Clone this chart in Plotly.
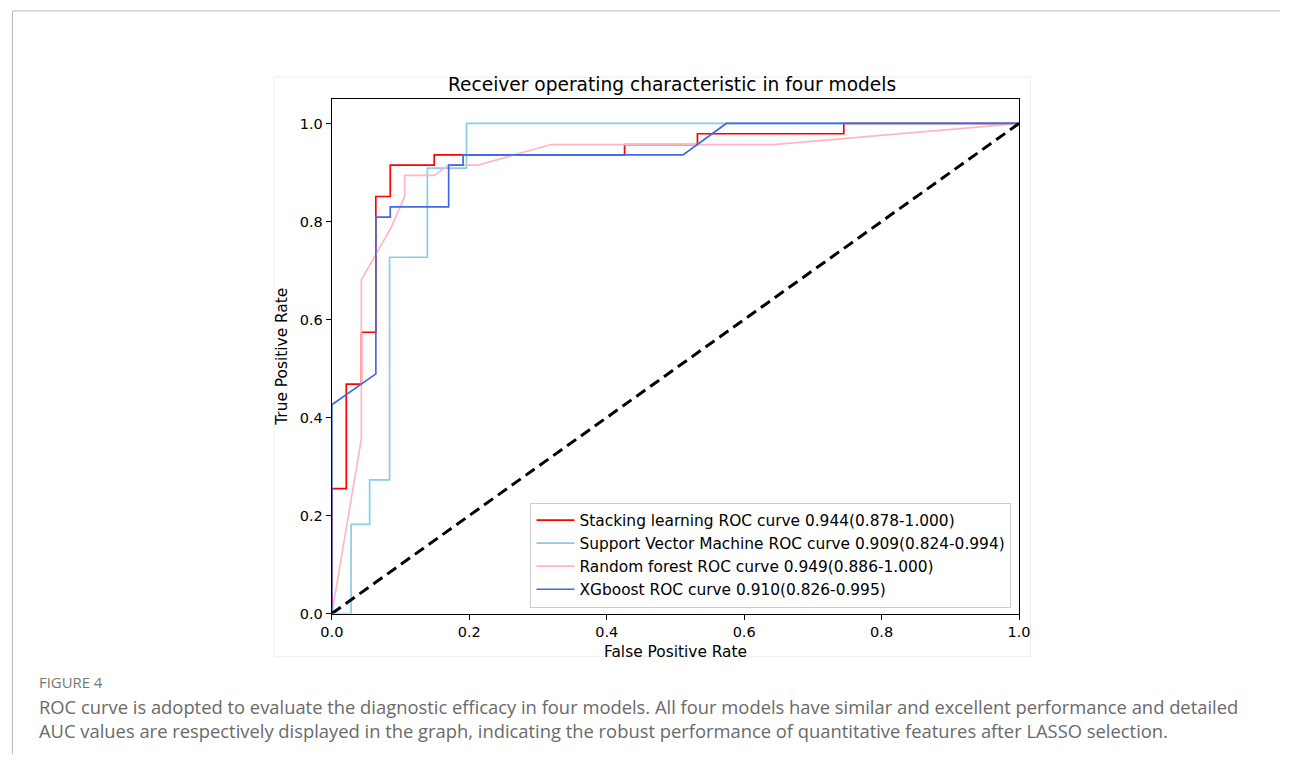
import plotly.graph_objects as go

W, H = 1292, 762

# ---- data ----
series_names = [
    "Stacking learning ROC curve 0.944(0.878-1.000)",
    "Support Vector Machine ROC curve 0.909(0.824-0.994)",
    "Random forest ROC curve 0.949(0.886-1.000)",
    "XGboost ROC curve 0.910(0.826-0.995)",
]
stack_fpr = [0, 0, 0.021, 0.021, 0.043, 0.043, 0.064, 0.064, 0.085, 0.085, 0.149, 0.149,
             0.426, 0.426, 0.532, 0.532, 0.745, 0.745, 1.0]
stack_tpr = [0, 0.255, 0.255, 0.468, 0.468, 0.574, 0.574, 0.851, 0.851, 0.915, 0.915, 0.936,
             0.936, 0.957, 0.957, 0.979, 0.979, 1.0, 1.0]
svm_fpr = [0, 0.028, 0.028, 0.055, 0.055, 0.084, 0.084, 0.139, 0.139, 0.196, 0.196, 1.0]
svm_tpr = [0, 0, 0.182, 0.182, 0.273, 0.273, 0.727, 0.727, 0.909, 0.909, 1.0, 1.0]
rf_fpr = [0, 0.043, 0.043, 0.086, 0.106, 0.106, 0.149, 0.170, 0.213, 0.319, 0.642, 1.0]
rf_tpr = [0, 0.357, 0.681, 0.787, 0.851, 0.894, 0.894, 0.915, 0.915, 0.957, 0.957, 1.0]
xgb_fpr = [0, 0, 0.064, 0.064, 0.085, 0.085, 0.170, 0.170, 0.191, 0.191, 0.511, 0.574, 1.0]
xgb_tpr = [0, 0.426, 0.489, 0.809, 0.809, 0.830, 0.830, 0.915, 0.915, 0.936, 0.936, 1.0, 1.0]
chance = [0, 1]
tick_vals = [0.0, 0.2, 0.4, 0.6, 0.8, 1.0]
tick_text = ["0.0", "0.2", "0.4", "0.6", "0.8", "1.0"]

colors = ["#ff0000", "#87ceeb", "#ffb6c1", "#4169e1"]


def px(x):
    return x / W


def py(y):
    return 1 - y / H


fig = go.Figure()
for name, xs, ys, c in zip(series_names,
                           [stack_fpr, svm_fpr, rf_fpr, xgb_fpr],
                           [stack_tpr, svm_tpr, rf_tpr, xgb_tpr], colors):
    fig.add_trace(go.Scatter(x=xs, y=ys, mode="lines", name=name,
                             line=dict(color=c, width=1.7)))
fig.add_trace(go.Scatter(x=chance, y=chance, mode="lines", showlegend=False,
                         line=dict(color="black", width=3, dash="11px,6px")))

FONT = "DejaVu Sans"
x0p, x1p = 325.9, 1026.1
y0p, y1p = 620.1, 100.0

fig.update_layout(
    width=W, height=H, autosize=False,
    margin=dict(l=0, r=0, t=0, b=0),
    paper_bgcolor="white", plot_bgcolor="white",
    font=dict(family=FONT, color="black", size=14),
    xaxis=dict(domain=[px(x0p), px(x1p)], range=[0, 1.0], showgrid=False, zeroline=False,
               showline=True, linecolor="black", linewidth=1.2, mirror=True,
               ticks="outside", ticklen=5, tickcolor="black", tickwidth=1,
               tickvals=tick_vals, ticktext=tick_text, tickfont=dict(size=14.5, family=FONT),
               anchor="y"),
    yaxis=dict(domain=[py(y0p), py(y1p)], range=[0, 1.05], showgrid=False, zeroline=False,
               showline=True, linecolor="black", linewidth=1.2, mirror=True,
               ticks="outside", ticklen=5, tickcolor="black", tickwidth=1,
               tickvals=tick_vals, ticktext=tick_text, tickfont=dict(size=14.5, family=FONT),
               anchor="x"),
    legend=dict(x=px(528.3), y=py(508), xanchor="left", yanchor="top",
                bgcolor="white", bordercolor="#cccccc", borderwidth=1,
                font=dict(size=15.4, family=FONT, color="black"),
                tracegroupgap=0, itemwidth=38),
    showlegend=True,
)

annotations = [
    dict(text="Receiver operating characteristic in four models", x=px(672.7), y=py(85),
         font=dict(size=18.6, family=FONT, color="black")),
    dict(text="False Positive Rate", x=px(675.8), y=py(658.6), font=dict(size=15.4, family=FONT)),
    dict(text="True Positive Rate", x=px(275.1), y=py(360.6), textangle=-90,
         font=dict(size=15.4, family=FONT)),
    dict(text="FIGURE 4", x=px(25), y=py(689.3), xanchor="left",
         font=dict(size=14.9, family="Open Sans", color="#777777")),
    dict(text="ROC curve is adopted to evaluate the diagnostic efficacy in four models. All four models have similar and excellent performance and detailed",
         x=px(25), y=py(714), xanchor="left",
         font=dict(size=18.37, family="Open Sans", color="#6a6a6a")),
    dict(text="AUC values are respectively displayed in the graph, indicating the robust performance of quantitative features after LASSO selection.",
         x=px(25), y=py(738.3), xanchor="left",
         font=dict(size=18.37, family="Open Sans", color="#6a6a6a")),
]
for a in annotations:
    a.update(xref="paper", yref="paper", showarrow=False, yanchor="middle")
    a.setdefault("xanchor", "center")
fig.update_layout(annotations=annotations)

shapes = [
    # page frame
    dict(type="line", x0=px(0.5), x1=1, y0=py(11), y1=py(11), line=dict(color="#bbbbbb", width=1)),
    dict(type="line", x0=px(0.5), x1=px(0.5), y0=py(11), y1=0, line=dict(color="#bbbbbb", width=1)),
    # figure image frame
    dict(type="rect", x0=px(266.9), x1=px(1037.8), y0=py(663.7), y1=py(77.9),
         line=dict(color="#eeeeee", width=1), layer="below"),
]
for s in shapes:
    s.update(xref="paper", yref="paper")
fig.update_layout(shapes=shapes)

fig.write_html("out.html", config={"responsive": False},
               post_script="document.body.style.margin='0';document.body.style.overflow='hidden';")
